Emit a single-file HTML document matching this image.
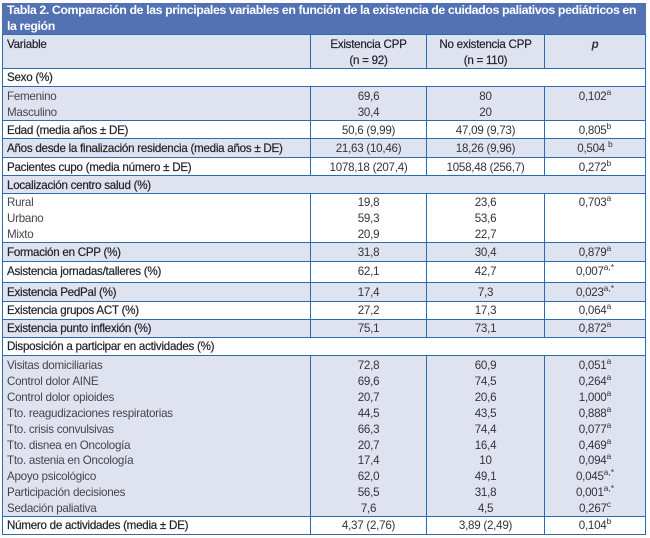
<!DOCTYPE html>
<html lang="es">
<head>
<meta charset="utf-8">
<title>Tabla 2</title>
<style>
html,body{margin:0;padding:0;width:650px;height:538px;background:#fff;overflow:hidden}
body{position:relative;font-family:"Liberation Sans",sans-serif;color:#33333a}
#title{position:absolute;left:2px;top:3px;width:644px;height:31px;background:#5272b3;color:#fff;font-weight:bold;font-size:12.4px;line-height:15.5px;box-sizing:border-box;padding:0 0 0 5px;letter-spacing:-.42px;white-space:nowrap}
.r{position:absolute;left:2px;width:644px;box-sizing:border-box;border:1px solid #2a6cb0;font-size:11.6px;line-height:15.9px;letter-spacing:-.26px;white-space:nowrap}
.s{background:#dfe3f0}
.w{background:#fff}
.c{position:absolute;top:0;bottom:0;box-sizing:border-box;text-align:center;padding-top:calc(var(--p,0px) + 1px)}
.c0{left:0;width:307px;padding-left:4px;text-align:left}
.c1{left:307px;width:116px;border-left:1px solid #2a6cb0}
.c2{left:423px;width:118px;border-left:1px solid #2a6cb0}
.c3{left:541px;width:101px;border-left:1px solid #2a6cb0}
.full{width:642px}
.b{color:#222228;-webkit-text-stroke:.2px #222228}
.lt{color:#44444c}
sup{font-size:8.5px;line-height:0;vertical-align:5px;letter-spacing:0}
i{font-weight:bold}
</style>
</head>
<body>
<div id="title">Tabla 2. Comparación de las principales variables en función de la existencia de cuidados paliativos pediátricos en<br>la región</div>
<div>
<div class="r s" style="top:34px;height:35px;--p:1px">
<div class="c c0 b">Variable</div>
<div class="c c1 b">Existencia CPP<br>(n = 92)</div>
<div class="c c2 b">No existencia CPP<br>(n = 110)</div>
<div class="c c3"><i>p</i></div>
</div>
<div class="r w" style="top:68px;height:19px"><div class="c c0 b full">Sexo (%)</div></div>
<div class="r s" style="top:86px;height:35px;--p:1px">
<div class="c c0 lt">Femenino<br>Masculino</div><div class="c c1">69,6<br>30,4</div><div class="c c2">80<br>20</div><div class="c c3">0,102<sup>a</sup></div>
</div>
<div class="r w" style="top:120px;height:19px;--p:1px"><div class="c c0 b">Edad (media años ± DE)</div><div class="c c1">50,6 (9,99)</div><div class="c c2">47,09 (9,73)</div><div class="c c3">0,805<sup>b</sup></div></div>
<div class="r s" style="top:138px;height:20px;--p:1px"><div class="c c0 b">Años desde la finalización residencia (media años ± DE)</div><div class="c c1">21,63 (10,46)</div><div class="c c2">18,26 (9,96)</div><div class="c c3">0,504 <sup>b</sup></div></div>
<div class="r w" style="top:157px;height:19px;--p:1px"><div class="c c0 b">Pacientes cupo (media número ± DE)</div><div class="c c1">1078,18 (207,4)</div><div class="c c2">1058,48 (256,7)</div><div class="c c3">0,272<sup>b</sup></div></div>
<div class="r s" style="top:175px;height:19px;--p:1px"><div class="c c0 b full">Localización centro salud (%)</div></div>
<div class="r w" style="top:193px;height:50px"><div class="c c0 lt">Rural<br>Urbano<br>Mixto</div><div class="c c1">19,8<br>59,3<br>20,9</div><div class="c c2">23,6<br>53,6<br>22,7</div><div class="c c3">0,703<sup>a</sup></div></div>
<div class="r s" style="top:242px;height:20px;--p:1px"><div class="c c0 b">Formación en CPP (%)</div><div class="c c1">31,8</div><div class="c c2">30,4</div><div class="c c3">0,879<sup>a</sup></div></div>
<div class="r w" style="top:261px;height:22px;--p:1px"><div class="c c0 b">Asistencia jornadas/talleres (%)</div><div class="c c1">62,1</div><div class="c c2">42,7</div><div class="c c3">0,007<sup>a,*</sup></div></div>
<div class="r s" style="top:282px;height:20px;--p:1px"><div class="c c0 b">Existencia PedPal (%)</div><div class="c c1">17,4</div><div class="c c2">7,3</div><div class="c c3">0,023<sup>a,*</sup></div></div>
<div class="r w" style="top:301px;height:19px"><div class="c c0 b">Existencia grupos ACT (%)</div><div class="c c1">27,2</div><div class="c c2">17,3</div><div class="c c3">0,064<sup>a</sup></div></div>
<div class="r s" style="top:319px;height:19px"><div class="c c0 b">Existencia punto inflexión (%)</div><div class="c c1">75,1</div><div class="c c2">73,1</div><div class="c c3">0,872<sup>a</sup></div></div>
<div class="r w" style="top:337px;height:19px"><div class="c c0 b full">Disposición a participar en actividades (%)</div></div>
<div class="r s" style="top:355px;height:162px;--p:1px">
<div class="c c0 lt">Visitas domiciliarias<br>Control dolor AINE<br>Control dolor opioides<br>Tto. reagudizaciones respiratorias<br>Tto. crisis convulsivas<br>Tto. disnea en Oncología<br>Tto. astenia en Oncología<br>Apoyo psicológico<br>Participación decisiones<br>Sedación paliativa</div>
<div class="c c1">72,8<br>69,6<br>20,7<br>44,5<br>66,3<br>20,7<br>17,4<br>62,0<br>56,5<br>7,6</div>
<div class="c c2">60,9<br>74,5<br>20,6<br>43,5<br>74,4<br>16,4<br>10<br>49,1<br>31,8<br>4,5</div>
<div class="c c3">0,051<sup>a</sup><br>0,264<sup>a</sup><br>1,000<sup>a</sup><br>0,888<sup>a</sup><br>0,077<sup>a</sup><br>0,469<sup>a</sup><br>0,094<sup>a</sup><br>0,045<sup>a,*</sup><br>0,001<sup>a,*</sup><br>0,267<sup>c</sup></div>
</div>
<div class="r w" style="top:516px;height:19px"><div class="c c0 b">Número de actividades (media ± DE)</div><div class="c c1">4,37 (2,76)</div><div class="c c2">3,89 (2,49)</div><div class="c c3">0,104<sup>b</sup></div></div>
</div>
</body>
</html>
